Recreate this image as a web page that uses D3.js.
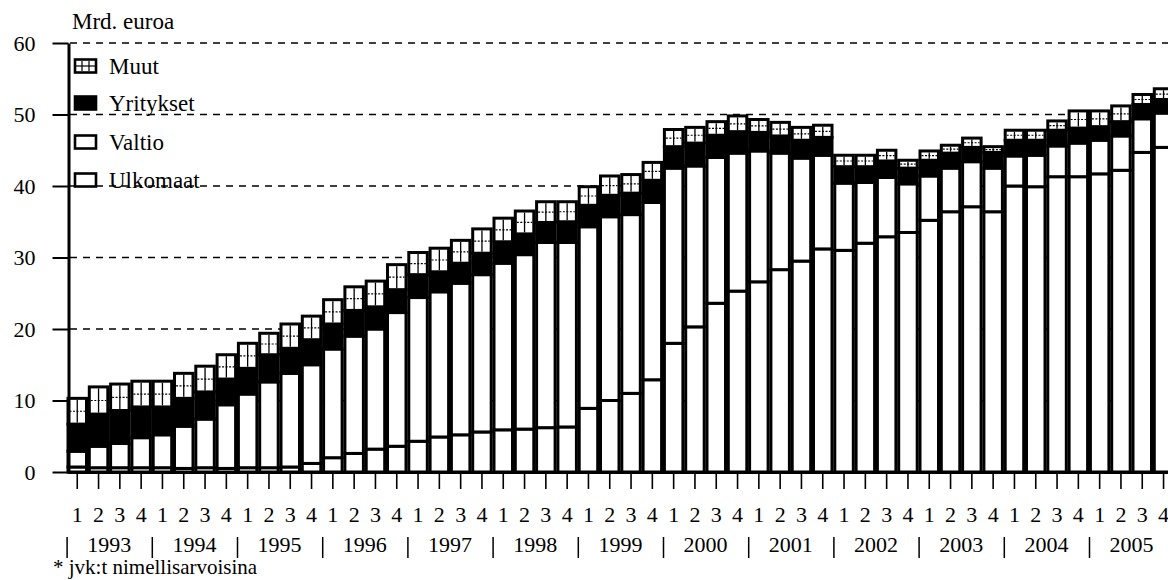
<!DOCTYPE html>
<html>
<head>
<meta charset="utf-8">
<script src="https://cdn.jsdelivr.net/npm/d3@7"></script>
<style>
  body { margin: 0; background: #fff; }
  svg { display: block; font-family: "Liberation Serif", "Times New Roman", serif; }
</style>
</head>
<body>
<svg id="chart" width="1168" height="580"></svg>
<script>
// quarterly data 1993-2005, Mrd. euroa (segment sizes, stacked bottom->top)
const years = ["1993","1994","1995","1996","1997","1998","1999","2000","2001","2002","2003","2004","2005"];
const quarters = ["1","2","3","4"];
const seriesNames = ["Ulkomaat","Valtio","Yritykset","Muut"];

const ulkomaat = [0.7,0.6,0.6,0.6, 0.6,0.5,0.6,0.5, 0.6,0.6,0.7,1.2, 2.0,2.6,3.2,3.6,
  4.3,4.9,5.2,5.6, 5.9,6.0,6.2,6.3, 8.9,10.0,11.0,12.9, 18.0,20.3,23.6,25.3,
  26.6,28.3,29.5,31.2, 31.0,32.0,32.9,33.5, 35.2,36.4,37.1,36.4, 40.0,39.9,41.3,41.3,
  41.7,42.2,44.7,45.4];
const valtio = [2.2,3.0,3.4,4.2, 4.6,5.9,6.8,8.9, 10.3,12.0,13.1,13.8, 15.2,16.4,16.8,18.7,
  20.1,20.3,21.2,22.0, 23.3,24.4,25.9,25.8, 25.4,25.7,25.0,24.8, 24.5,22.5,20.4,19.3,
  18.3,16.3,14.4,13.1, 9.4,8.5,8.3,6.8, 6.2,6.1,6.3,6.1, 4.2,4.4,4.3,4.7,
  4.7,4.8,4.7,4.8];
const yritykset = [3.8,4.5,4.6,4.3, 3.9,3.9,3.8,3.6, 3.6,3.8,3.5,3.5, 3.5,3.6,3.1,3.2,
  3.2,2.8,2.8,3.0, 3.0,2.9,2.8,2.9, 3.0,3.0,3.0,3.1, 3.0,3.2,3.1,3.0,
  2.6,2.4,2.5,2.5, 2.3,2.2,2.3,2.2, 2.2,2.1,2.0,2.2, 2.2,2.1,2.2,2.1,
  1.9,2.0,2.0,1.9];
const muut = [3.6,3.8,3.7,3.6, 3.6,3.5,3.6,3.4, 3.5,3.0,3.4,3.3, 3.4,3.3,3.6,3.5,
  3.1,3.3,3.2,3.4, 3.3,3.2,2.9,2.8, 2.6,2.7,2.6,2.5, 2.4,2.2,1.9,2.2,
  1.8,1.9,1.8,1.7, 1.6,1.6,1.5,1.1, 1.3,1.1,1.3,0.8, 1.4,1.4,1.3,2.4,
  2.2,2.2,1.4,1.5];

const yTicks = [0,10,20,30,40,50,60];

// build rows for d3.stack
const periods = years.flatMap(y => quarters.map(q => y + "-" + q));
const rows = periods.map((p, i) => ({
  period: p,
  Ulkomaat: ulkomaat[i],
  Valtio: valtio[i],
  Yritykset: yritykset[i],
  Muut: muut[i]
}));

const svg = d3.select("#chart");
const W = 1168, H = 580;
const step = 21.3;
const x0 = 66.6;

const x = d3.scaleBand()
  .domain(periods)
  .range([x0, x0 + step * periods.length])
  .paddingInner(0).paddingOuter(0);

const y = d3.scaleLinear().domain([0, 60]).range([472, 43]);

const fills = { Ulkomaat: "#fff", Valtio: "#fff", Yritykset: "#000", Muut: "#fff" };
const barW = 18.5;
const fontSize = 22;

// dashed gridlines
svg.append("g").selectAll("line")
  .data(yTicks.filter(d => d > 0))
  .join("line")
  .attr("x1", 70).attr("x2", W)
  .attr("y1", d => y(d)).attr("y2", d => y(d))
  .attr("stroke", "#000")
  .attr("stroke-width", 1.6)
  .attr("stroke-dasharray", "7,6");

// stacked bars
const stacked = d3.stack().keys(seriesNames)(rows);

const layers = svg.append("g").selectAll("g")
  .data(stacked)
  .join("g")
  .attr("class", d => "layer " + d.key);

layers.selectAll("rect")
  .data(d => d.map(s => ({ key: d.key, s })))
  .join("rect")
  .attr("x", d => x(d.s.data.period) + (step - barW) / 2)
  .attr("y", d => y(d.s[1]))
  .attr("width", barW)
  .attr("height", d => y(d.s[0]) - y(d.s[1]))
  .attr("fill", d => fills[d.key])
  .attr("stroke", "#000")
  .attr("stroke-width", 3);

// Muut hatch: cross inside each box
const muutLayer = stacked.find(l => l.key === "Muut");
const hatch = svg.append("g").attr("stroke", "#000");
hatch.selectAll("line.v")
  .data(muutLayer)
  .join("line")
  .attr("class", "v")
  .attr("x1", d => x(d.data.period) + step / 2)
  .attr("x2", d => x(d.data.period) + step / 2)
  .attr("y1", d => y(d[1]) + 1.5)
  .attr("y2", d => y(d[0]) - 1.5)
  .attr("stroke-width", 1.3);
hatch.selectAll("line.h")
  .data(muutLayer)
  .join("line")
  .attr("class", "h")
  .attr("x1", d => x(d.data.period) + (step - barW) / 2 + 1.5)
  .attr("x2", d => x(d.data.period) + (step + barW) / 2 - 1.5)
  .attr("y1", d => (y(d[1]) + y(d[0])) / 2)
  .attr("y2", d => (y(d[1]) + y(d[0])) / 2)
  .attr("stroke-width", 1.2)
  .attr("stroke-dasharray", "2,1.5");

// y axis
const yAxis = svg.append("g")
  .attr("transform", "translate(68.5,0)")
  .call(d3.axisLeft(y).tickValues(yTicks).tickSize(16).tickSizeOuter(0).tickPadding(17));
yAxis.select(".domain").attr("stroke-width", 3);
yAxis.selectAll(".tick line").attr("stroke-width", 2);
yAxis.selectAll(".tick text").attr("font-size", fontSize).attr("fill", "#000")
  .attr("font-family", "Liberation Serif");

// x axis with quarter labels
const xAxis = svg.append("g")
  .attr("transform", `translate(0,${y(0)})`)
  .call(d3.axisBottom(x).tickSize(17).tickSizeOuter(0).tickPadding(17)
    .tickFormat(p => p.split("-")[1]));
xAxis.select(".domain").attr("stroke-width", 3).attr("d", `M68,0.5H${W}`);
xAxis.selectAll(".tick line").attr("stroke-width", 1.6);
xAxis.selectAll(".tick text").attr("font-size", fontSize).attr("fill", "#000")
  .attr("font-family", "Liberation Serif");

// year labels and separators
const yearG = svg.append("g");
yearG.selectAll("text")
  .data(years)
  .join("text")
  .attr("x", (d, i) => x(periods[i * 4]) + step * 2)
  .attr("y", 552)
  .attr("text-anchor", "middle")
  .attr("font-size", fontSize)
  .text(d => d);
yearG.selectAll("line")
  .data(years)
  .join("line")
  .attr("x1", (d, i) => x(periods[i * 4]) + 0.5)
  .attr("x2", (d, i) => x(periods[i * 4]) + 0.5)
  .attr("y1", 537).attr("y2", 558)
  .attr("stroke", "#000").attr("stroke-width", 1.5);

// unit label + footnote
svg.append("text").attr("x", 72).attr("y", 29).attr("font-size", 23).text("Mrd. euroa");
svg.append("text").attr("x", 53).attr("y", 574).attr("font-size", 21).text("* jvk:t nimellisarvoisina");

// legend (top to bottom: Muut, Yritykset, Valtio, Ulkomaat)
const legendItems = seriesNames.slice().reverse();
const legendY = [66, 103, 142, 180];
const leg = svg.append("g").selectAll("g")
  .data(legendItems)
  .join("g")
  .attr("transform", (d, i) => `translate(75,${legendY[i]})`);
leg.append("rect")
  .attr("x", 0).attr("y", -6.5)
  .attr("width", 21).attr("height", 13)
  .attr("fill", d => fills[d])
  .attr("stroke", "#000").attr("stroke-width", 2.6);
leg.filter(d => d === "Muut").each(function () {
  const g = d3.select(this);
  [7, 14].forEach(vx => g.append("line").attr("x1", vx).attr("x2", vx)
    .attr("y1", -5).attr("y2", 5).attr("stroke", "#000").attr("stroke-width", 1.2));
  g.append("line").attr("x1", 1).attr("x2", 20).attr("y1", 0).attr("y2", 0)
    .attr("stroke", "#000").attr("stroke-width", 1.2);
});
leg.append("text")
  .attr("x", 34).attr("y", 8)
  .attr("font-size", 23)
  .text(d => d);
</script>
</body>
</html>
